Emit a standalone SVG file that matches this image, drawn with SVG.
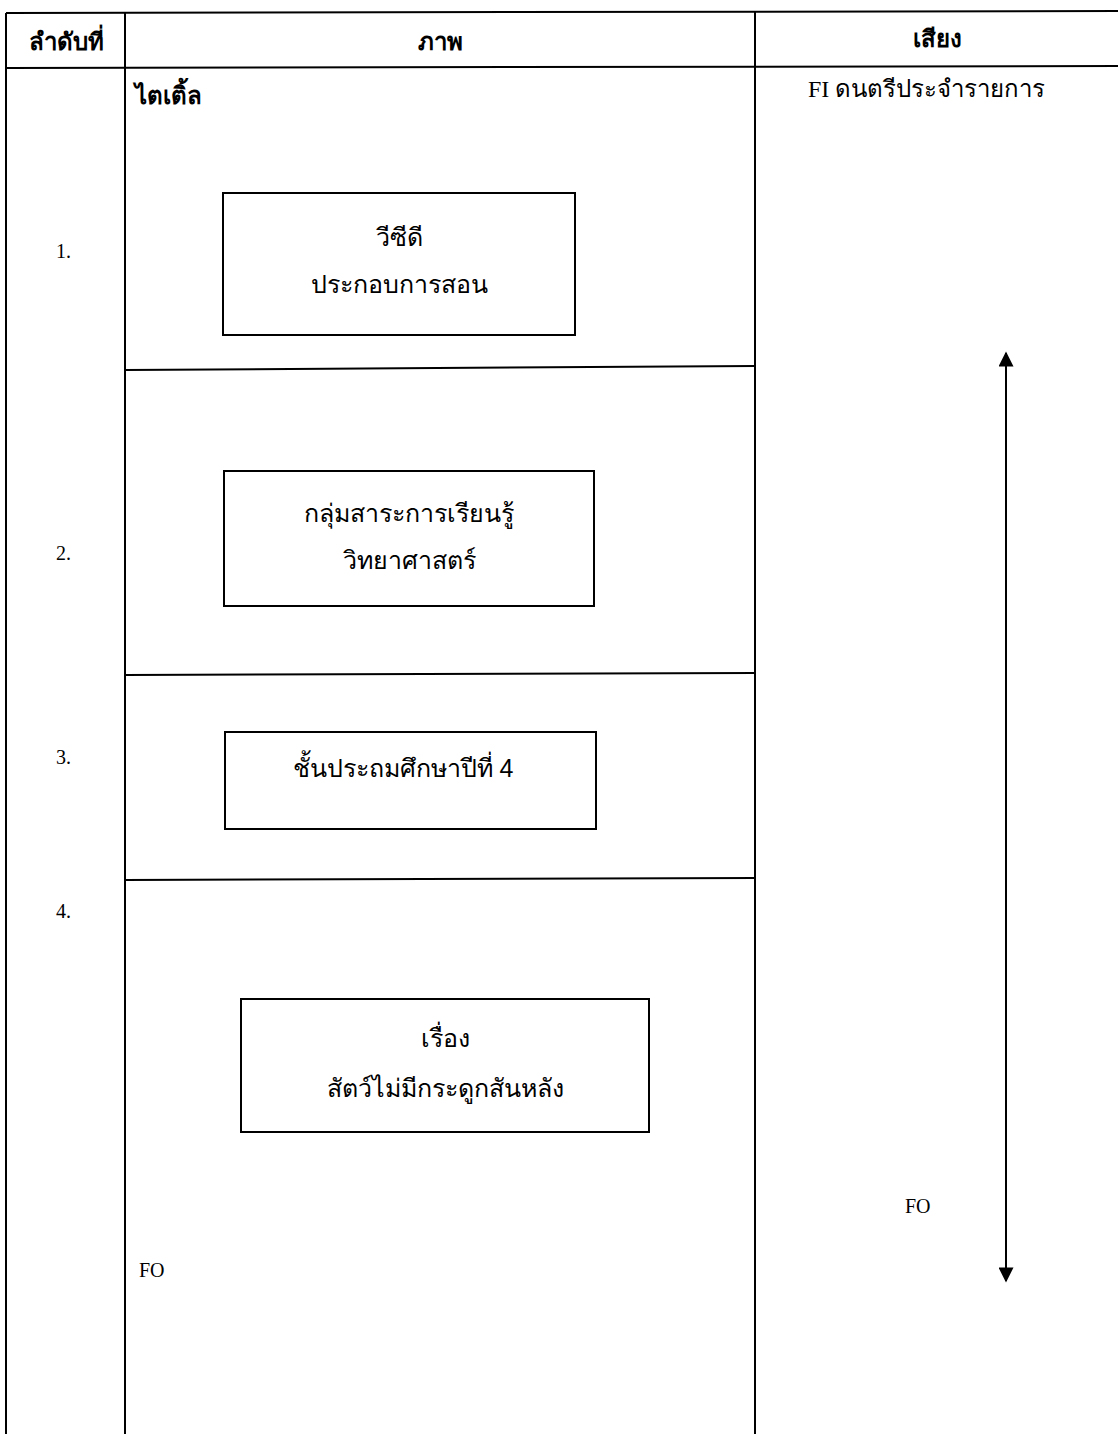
<svg xmlns="http://www.w3.org/2000/svg" width="1118" height="1434" viewBox="0 0 1118 1434">
<style>
.ln{stroke:#000;stroke-width:2;fill:none}
.bx{stroke:#000;stroke-width:2;fill:#fff}
.t{font-family:"Liberation Serif","Noto Sans",serif;font-size:24px;fill:#000}
.h{font-family:"Liberation Sans","Noto Sans",sans-serif;font-size:24px;font-weight:bold;fill:#000}
.b{font-family:"Liberation Sans","Noto Sans",sans-serif;font-size:25px;fill:#000;text-anchor:middle}
.c{text-anchor:middle}
</style>
<defs>
<marker id="ah" viewBox="0 0 10 10" refX="9" refY="5" markerWidth="16" markerHeight="15" markerUnits="userSpaceOnUse" orient="auto-start-reverse">
<path d="M0,0 L10,5 L0,10 z" fill="#000"/>
</marker>
</defs>
<g id="table">
<line class="ln" x1="6" y1="13" x2="1118" y2="11"/>
<line class="ln" x1="6" y1="68" x2="1118" y2="66"/>
<line class="ln" x1="6" y1="13" x2="6" y2="1434"/>
<line class="ln" x1="125" y1="13" x2="125" y2="1434"/>
<line class="ln" x1="755" y1="12" x2="755" y2="1434"/>
<line class="ln" x1="125" y1="370" x2="755" y2="366"/>
<line class="ln" x1="125" y1="675" x2="755" y2="673"/>
<line class="ln" x1="125" y1="880" x2="755" y2="878"/>
<text class="h c" x="66" y="50">ลำดับที่</text>
<text class="h c" x="440" y="50">ภาพ</text>
<text class="h c" x="937" y="47">เสียง</text>
<text class="h" x="135" y="104">ไตเติ้ล</text>
<text class="t" x="808" y="97">FI  ดนตรีประจำรายการ</text>
<text class="t" x="56" y="258" style="font-size:20px">1.</text>
<text class="t" x="56" y="560" style="font-size:20px">2.</text>
<text class="t" x="56" y="764" style="font-size:20px">3.</text>
<text class="t" x="56" y="918" style="font-size:20px">4.</text>
<text class="t" x="139" y="1277" style="font-size:20px">FO</text>
<text class="t" x="905" y="1213" style="font-size:20px">FO</text>
</g>
<g id="node1">
<rect class="bx" x="223" y="193" width="352" height="142"/>
<text class="b" x="399" y="246">วีซีดี</text>
<text class="b" x="399" y="293">ประกอบการสอน</text>
</g>
<g id="node2">
<rect class="bx" x="224" y="471" width="370" height="135"/>
<text class="b" x="409" y="522">กลุ่มสาระการเรียนรู้</text>
<text class="b" x="409" y="569">วิทยาศาสตร์</text>
</g>
<g id="node3">
<rect class="bx" x="225" y="732" width="371" height="97"/>
<text class="b" x="403" y="777">ชั้นประถมศึกษาปีที่ 4</text>
</g>
<g id="node4">
<rect class="bx" x="241" y="999" width="408" height="133"/>
<text class="b" x="445" y="1047">เรื่อง</text>
<text class="b" x="445" y="1097">สัตว์ไม่มีกระดูกสันหลัง</text>
</g>
<g id="connectors">
<line class="ln" x1="1006" y1="353" x2="1006" y2="1281" marker-start="url(#ah)" marker-end="url(#ah)"/>
</g>
</svg>
